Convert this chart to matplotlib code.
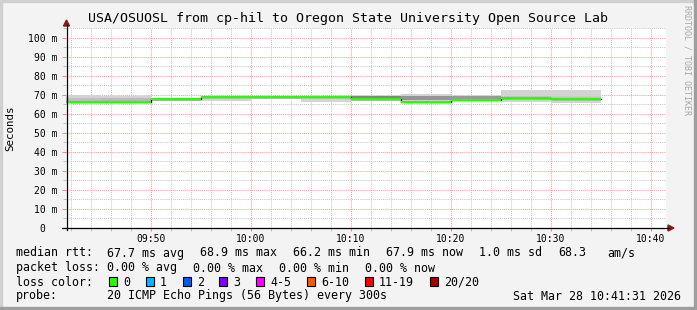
import matplotlib
matplotlib.use('Agg')
import matplotlib.pyplot as plt
import matplotlib.dates as mdates
from matplotlib.patches import Rectangle, Polygon
from matplotlib.lines import Line2D
from datetime import datetime

plt.rcParams['font.family'] = ['DejaVu Sans Mono']

# --- data ---
day = "2026-03-28 "
seg_start = ["09:40", "09:45", "09:50", "09:55", "10:00", "10:05",
             "10:10", "10:15", "10:20", "10:25", "10:30"]
seg_end = "10:35"
median_ms = [66.2, 66.3, 67.8, 68.9, 68.9, 68.9, 67.6, 66.4, 67.0, 68.2, 67.9]
smoke_lo = [66.2, 66.3, 66.7, 66.7, 67.5, 66.3, 66.6, 66.3, 66.7, 66.3, 65.8]
smoke_hi = [69.8, 69.1, 68.4, 69.4, 69.4, 69.4, 69.6, 70.5, 69.8, 72.2, 72.7]
core_lo = [66.2, 66.3, 66.7, 66.7, 67.5, 66.3, 67.8, 67.0, 67.8, 67.0, 67.0]
core_hi = [68.5, 68.0, 68.4, 69.4, 69.4, 69.4, 69.3, 69.3, 69.3, 69.4, 69.2]
core_density = [0.25, 0.3, 0.15, 0.0, 0.0, 0.0, 0.95, 0.75, 0.7, 0.15, 0.1]

y_ticks = [0, 10, 20, 30, 40, 50, 60, 70, 80, 90, 100]
y_labels = ["0  ", "10 m", "20 m", "30 m", "40 m", "50 m", "60 m", "70 m", "80 m", "90 m", "100 m"]
t_from = "09:41:31"
t_to = "10:41:31"

loss_names = ["0", "1", "2", "3", "4-5", "6-10", "11-19", "20/20"]
loss_colors = ["#26ff00", "#00b8ff", "#0059ff", "#7e00ff", "#ff00ff", "#ff5500", "#ff0000", "#a10000"]

def T(s):
    fmt = "%Y-%m-%d %H:%M:%S" if s.count(":") == 2 else "%Y-%m-%d %H:%M"
    return mdates.date2num(datetime.strptime(day + s, fmt))

W, H = 697, 310
fig = plt.figure(figsize=(W / 100, H / 100), dpi=100)
fig.patch.set_facecolor('#f3f3f3')

def fx(px):
    return px / W

def fy(py):
    return 1 - py / H

# plot area (pixels): x 66..666, y 28..228
ax = fig.add_axes([fx(66), fy(228), 600 / W, 200 / H])
ax.set_facecolor('white')

starts = [T(s) for s in seg_start]
ends = starts[1:] + [T(seg_end)]
widths = [e - s for s, e in zip(starts, ends)]

# smoke
ax.bar(starts, [h - l for l, h in zip(smoke_lo, smoke_hi)], width=widths, bottom=smoke_lo,
       align='edge', color='#d3d3d3', linewidth=0, zorder=2)
core_cols = [str(0.83 - 0.33 * d) for d in core_density]
ax.bar(starts, [h - l for l, h in zip(core_lo, core_hi)], width=widths, bottom=core_lo,
       align='edge', color=core_cols, linewidth=0, zorder=2)

# median: thin black step under green
ax.step(starts + [ends[-1]], median_ms + [median_ms[-1]], where='post',
        color='black', lw=0.9, zorder=3)
ax.hlines(median_ms, starts, ends, color=loss_colors[0], lw=1.6, zorder=4)

ax.set_xlim(T(t_from), T(t_to))
ax.set_ylim(0, 104)

ax.xaxis.set_major_locator(mdates.MinuteLocator(byminute=range(0, 60, 10)))
ax.xaxis.set_minor_locator(mdates.MinuteLocator(byminute=range(0, 60, 2)))
ax.xaxis.set_major_formatter(mdates.DateFormatter('%H:%M'))
ax.set_yticks(y_ticks)
ax.set_yticklabels(y_labels)
ax.set_yticks([v + 5 for v in y_ticks], minor=True)

ax.grid(which='minor', color='#c8c8c8', lw=0.75, linestyle=(0, (1, 1)), zorder=1)
ax.grid(which='major', color='#ff9a9a', lw=0.75, linestyle=(0, (1, 1)), zorder=1)
ax.set_axisbelow(True)

ax.tick_params(axis='both', which='major', labelsize=7, colors='#ff8080', labelcolor='black')
ax.tick_params(axis='y', which='major', length=3, width=0.7, pad=3)
ax.tick_params(axis='x', which='major', length=2, width=0.7, pad=2)
ax.tick_params(axis='both', which='minor', length=2, width=0.7, colors='#c0c0c0')
for s in ax.spines.values():
    s.set_visible(False)

# axis lines with arrows
fig.add_artist(Line2D([fx(62), fx(669)], [fy(228), fy(228)], color='black', lw=0.9))
fig.add_artist(Line2D([fx(66.5), fx(66.5)], [fy(230), fy(25)], color='black', lw=0.9))
fig.add_artist(Polygon([[fx(66.5), fy(20)], [fx(63.5), fy(26)], [fx(69.5), fy(26)]],
                       closed=True, color='#8b1a1a', transform=fig.transFigure))
fig.add_artist(Polygon([[fx(674), fy(228)], [fx(668), fy(225)], [fx(668), fy(231)]],
                       closed=True, color='#8b1a1a', transform=fig.transFigure))

# frame
fig.add_artist(Rectangle((0, fy(2)), 1, 2 / H, color='#d0d0d0', transform=fig.transFigure))
fig.add_artist(Rectangle((0, 0), 2 / W, 1, color='#d0d0d0', transform=fig.transFigure))
fig.add_artist(Rectangle((0, 0), 1, 3 / H, color='#9e9e9e', transform=fig.transFigure))
fig.add_artist(Rectangle((fx(694), 0), 3 / W, 1, color='#9e9e9e', transform=fig.transFigure))

# title / labels
fig.text(fx(348), fy(18.5), "USA/OSUOSL from cp-hil to Oregon State University Open Source Lab",
         ha='center', va='center', fontsize=9.5)
fig.text(fx(10), fy(128), "Seconds", rotation=90, ha='center', va='center', fontsize=7.8)
fig.text(fx(687), fy(60), "RRDTOOL / TOBI OETIKER", rotation=270, ha='center', va='center',
         fontsize=6, color='#a8a8a8')

fs = 8.4
def line(px, py, s):
    fig.text(fx(px), fy(py), s, ha='left', va='center', fontsize=fs)

line(16, 253, "median rtt:")
for px, s in [(107, "67.7 ms avg"), (200, "68.9 ms max"), (293, "66.2 ms min"),
              (386, "67.9 ms now"), (479, "1.0 ms sd"), (558, "68.3"), (607, "am/s")]:
    line(px, 253, s)
line(16, 268, "packet loss:")
for px, s in [(107, "0.00 % avg"), (193, "0.00 % max"), (279, "0.00 % min"), (365, "0.00 % now")]:
    line(px, 268, s)
line(16, 282, "loss color:")
box_x = [109, 146, 183, 219, 256, 307, 365, 430]
for bx, name, col in zip(box_x, loss_names, loss_colors):
    fig.add_artist(Rectangle((fx(bx), fy(286)), 8 / W, 9 / H, facecolor=col, edgecolor='black',
                             lw=0.8, transform=fig.transFigure))
    line(bx + 14, 282, name)
line(16, 296, "probe:")
line(107, 296, "20 ICMP Echo Pings (56 Bytes) every 300s")
line(513, 296, "Sat Mar 28 10:41:31 2026")

fig.savefig("out.png", dpi=100, facecolor=fig.get_facecolor())
